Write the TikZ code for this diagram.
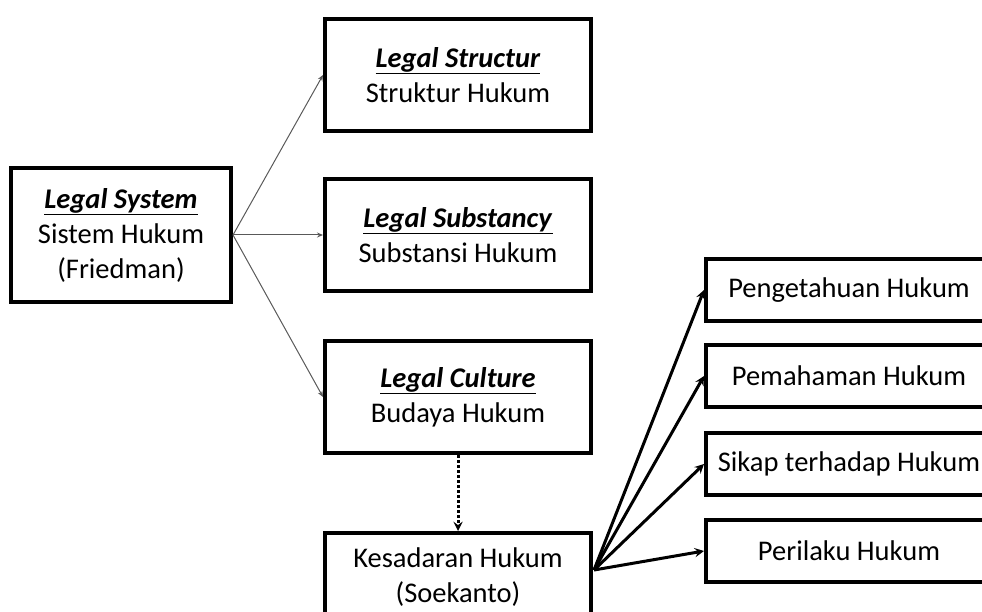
\documentclass[tikz,border=0pt]{standalone}
\usepackage{fontspec}
\setmainfont{Carlito}
\usetikzlibrary{arrows.meta}

\tikzset{
  box/.style={draw, line width=4pt, align=center, inner sep=0pt,
    font=\fontsize{28.5}{35}\selectfont},
  bigbox/.style={box, minimum width=266pt, minimum height=112pt},
  smallbox/.style={box, minimum width=286pt, minimum height=62pt},
  thin/.style={-{Stealth[length=6pt,width=5pt]}, line width=1pt, black!65},
  thick/.style={->, line width=3pt}
}
\newcommand{\legal}[1]{\underline{\textbf{\textit{#1}}}}

\begin{document}
\begin{tikzpicture}[x=1pt,y=-1pt,>=stealth]
\useasboundingbox (0,0) rectangle (982,612);

\node[box, minimum width=220pt, minimum height=133pt] (system) at (121,235)
  {\legal{Legal System}\\Sistem Hukum\\(Friedman)};

\node[bigbox] (structur) at (458,75) {\legal{Legal Structur}\\Struktur Hukum};
\node[bigbox] (substancy) at (458,235) {\legal{Legal Substancy}\\Substansi Hukum};
\node[bigbox] (culture) at (458,397) {\legal{Legal Culture}\\Budaya Hukum};
\node[bigbox, minimum height=88pt] (kesadaran) at (458,577) {Kesadaran Hukum\\(Soekanto)};

\node[smallbox] (pengetahuan) at (849,290) {Pengetahuan Hukum};
\node[smallbox] (pemahaman) at (849,376) {Pemahaman Hukum};
\node[smallbox] (sikap) at (849,464) {Sikap terhadap Hukum};
\node[smallbox] (perilaku) at (849,551) {Perilaku Hukum};

% Friedman
\draw[thin] (system.east) -- (structur.west);
\draw[thin] (system.east) -- (substancy.west);
\draw[thin] (system.east) -- (culture.west);

\draw[->, line width=3pt, dotted] (culture.south) -- (kesadaran.north);

% Soekanto
\coordinate (fan) at (594,570);
\foreach \n in {pengetahuan,pemahaman,sikap,perilaku}{
    \draw[thick] (fan) -- (\n.west);
}
\end{tikzpicture}
\end{document}
